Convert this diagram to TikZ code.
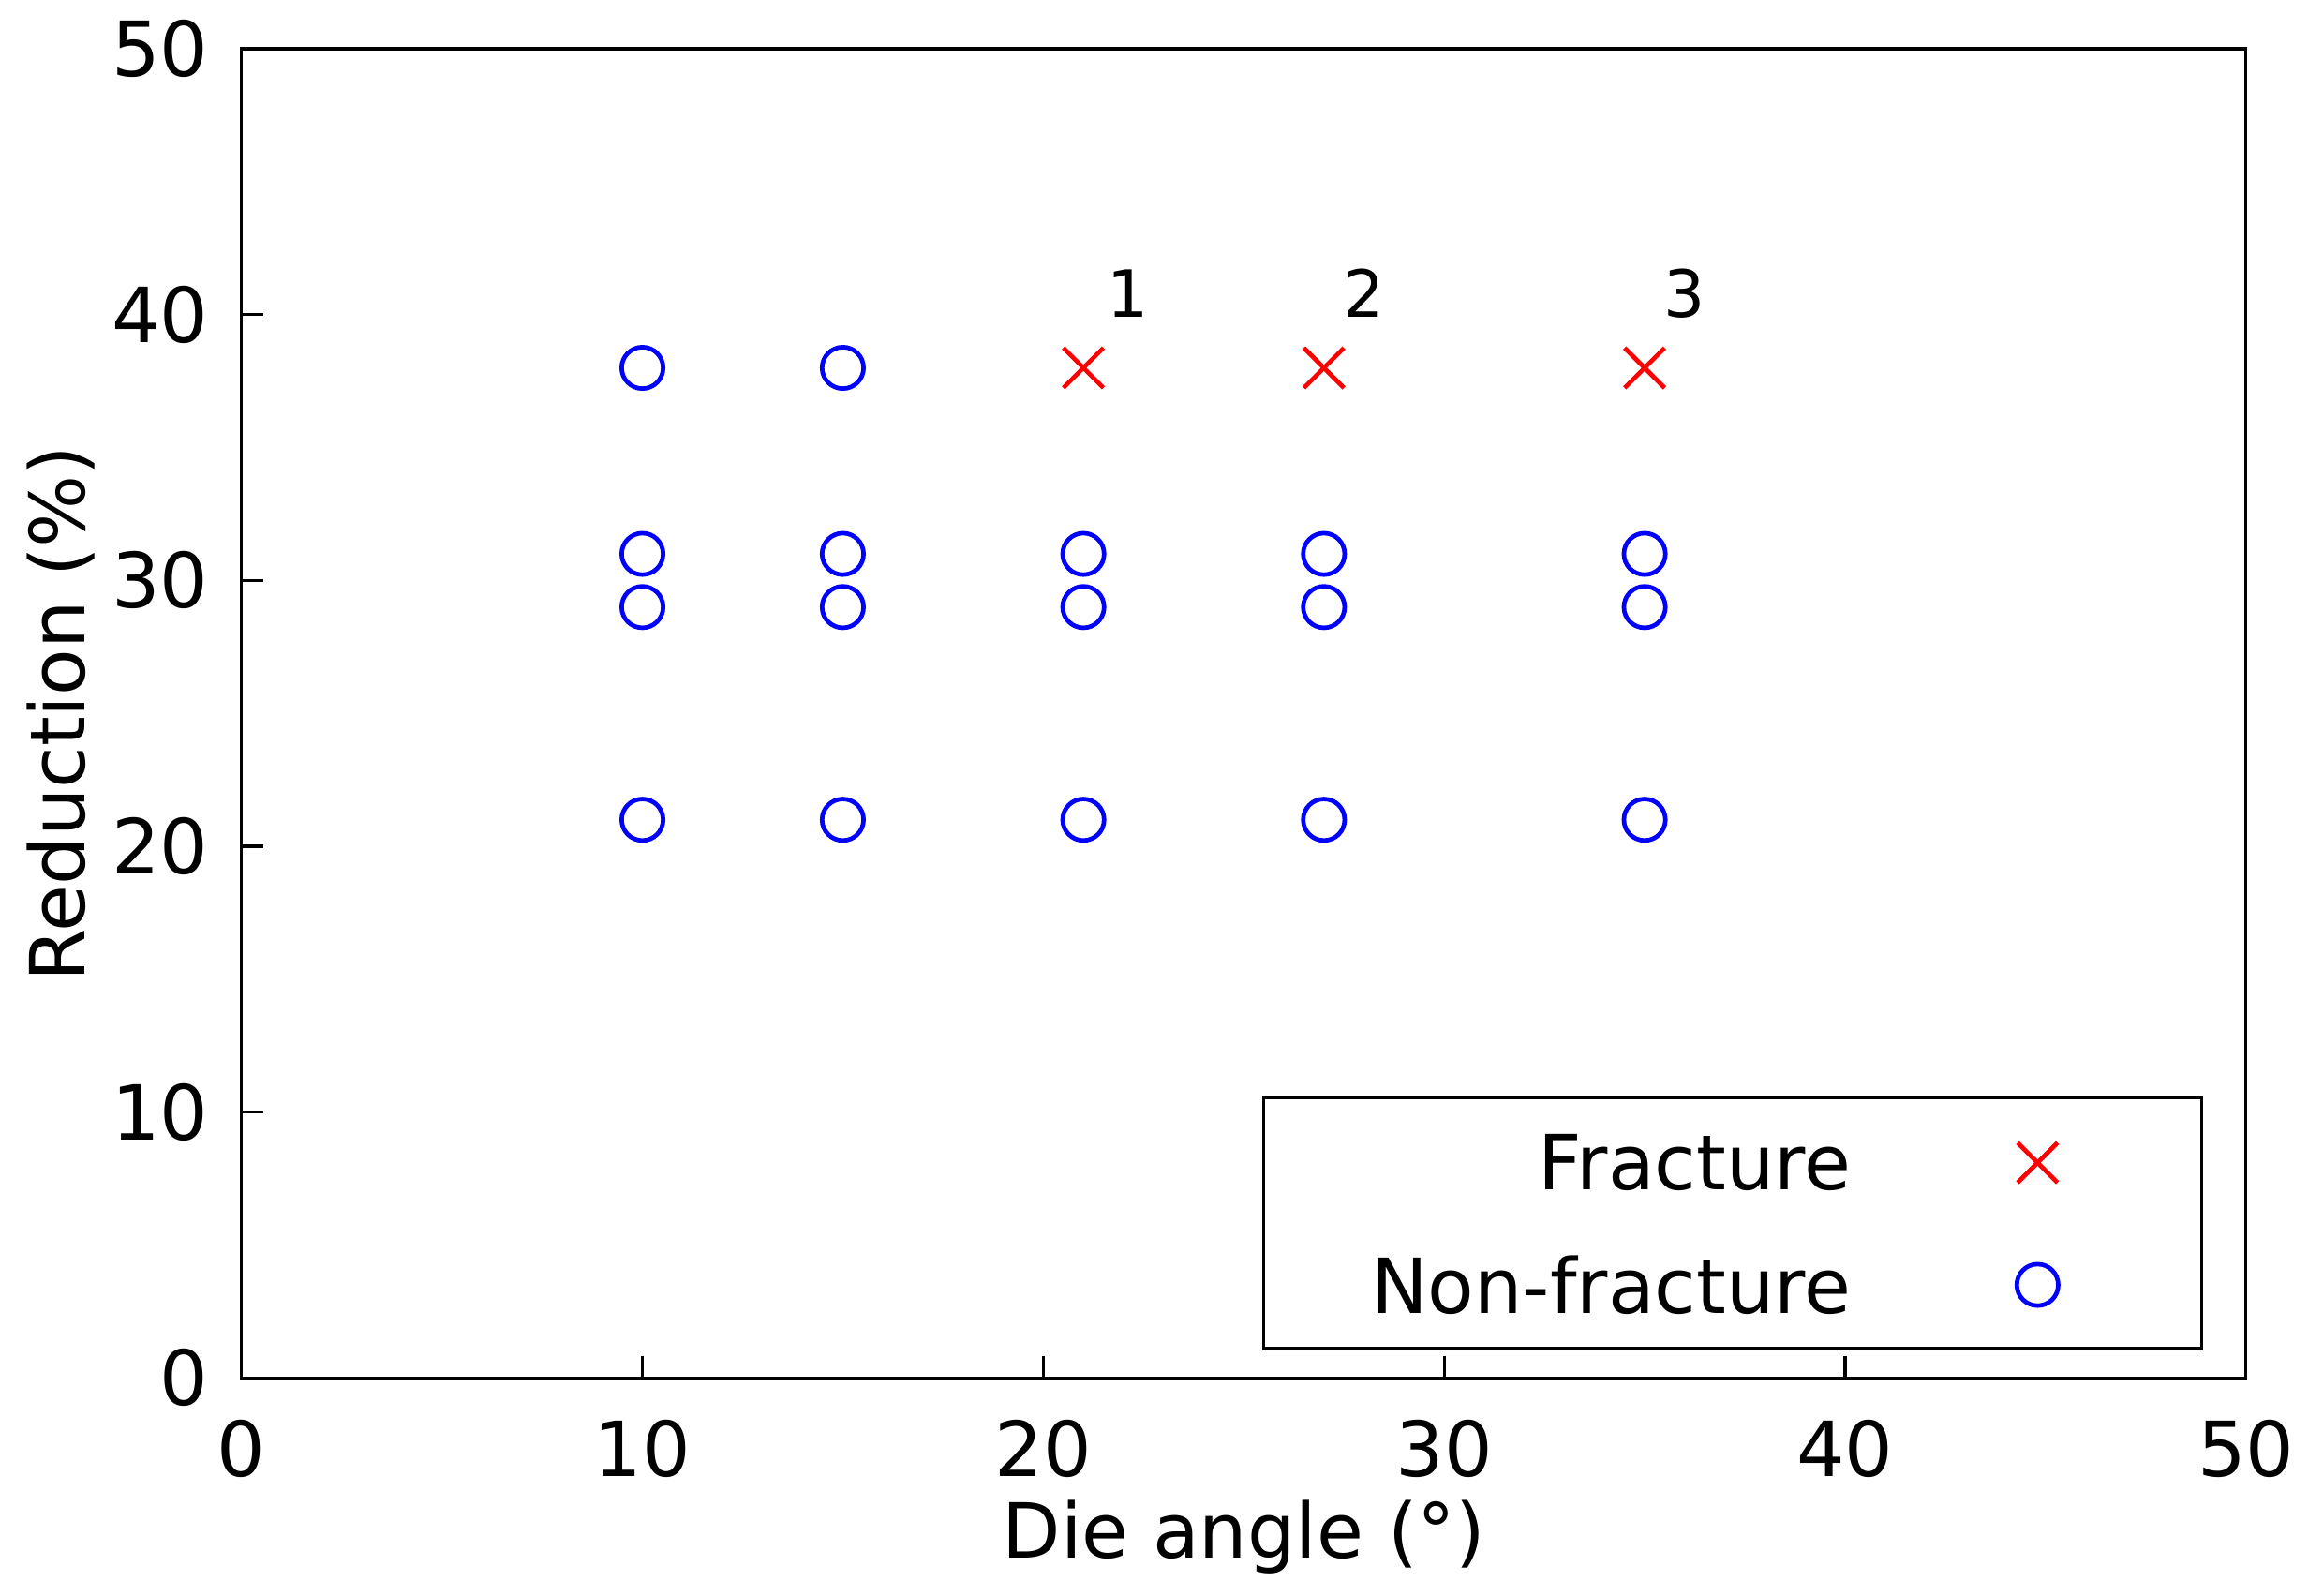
\documentclass[tikz,border=0pt]{standalone}
\usepackage{fontspec}
\setmainfont{DejaVu Sans}
\usetikzlibrary{shapes.misc}
\begin{document}
\begin{tikzpicture}[
  tick/.style={font=\fontsize{14.6}{17}\selectfont},
  nofrac/.style={draw=blue, circle, line width=0.85pt, minimum size=0.28cm, inner sep=0pt},
  frac/.style={draw=red, cross out, line width=0.85pt, minimum size=0.24cm, inner sep=0pt},
  lab/.style={font=\fontsize{12.5}{15}\selectfont}]
\useasboundingbox (0,0) rectangle (15.68,10.77);
\begin{scope}[shift={(1.63,1.47)}, x=0.2706cm, y=0.1794cm]
		\draw[line width=0.6pt] (0,0) rectangle (50,50);
		\foreach \t in {0,10,...,50} {
			\draw[line width=0.6pt] (\t,0) -- ++(0,0.15cm);
			\node[tick, anchor=north] (xt\t) at (\t,-0.16cm) {\t};
			\draw[line width=0.6pt] (0,\t) -- ++(0.15cm,0);
			\node[tick, anchor=east] (yt\t) at (-0.1cm,\t) {\t};
		}
		\node[tick] (xlabel) at (25,-6.0) {Die angle (°)};
		\node[tick, rotate=90] (ylabel) at (-4.5,25) {Reduction (\%)};
		% non-fracture points
		\foreach \a in {10,15,21,27,35}
			\foreach \r in {21,29,31}
				\node[nofrac] (n\a-\r) at (\a,\r) {};
		\node[nofrac] (n10-38) at (10,38) {};
		\node[nofrac] (n15-38) at (15,38) {};
		% fracture points
		\node[frac] (f1) at (21,38) {};
		\node[frac] (f2) at (27,38) {};
		\node[frac] (f3) at (35,38) {};
		\node[lab] (l1) at (22.1,40.8) {1};
		\node[lab] (l2) at (28.0,40.8) {2};
		\node[lab] (l3) at (36.0,40.8) {3};
		% legend
		\draw[line width=0.6pt, fill=white] (25.5,1.1) rectangle (48.9,10.55);
		\node[tick, anchor=east] (lfrac) at (40.6,8.1) {Fracture};
		\node[frac] (sfrac) at (44.8,8.1) {};
		\node[tick, anchor=east] (lnofrac) at (40.6,3.5) {Non-fracture};
		\node[nofrac] (snofrac) at (44.8,3.5) {};
\end{scope}
\end{tikzpicture}
\end{document}
